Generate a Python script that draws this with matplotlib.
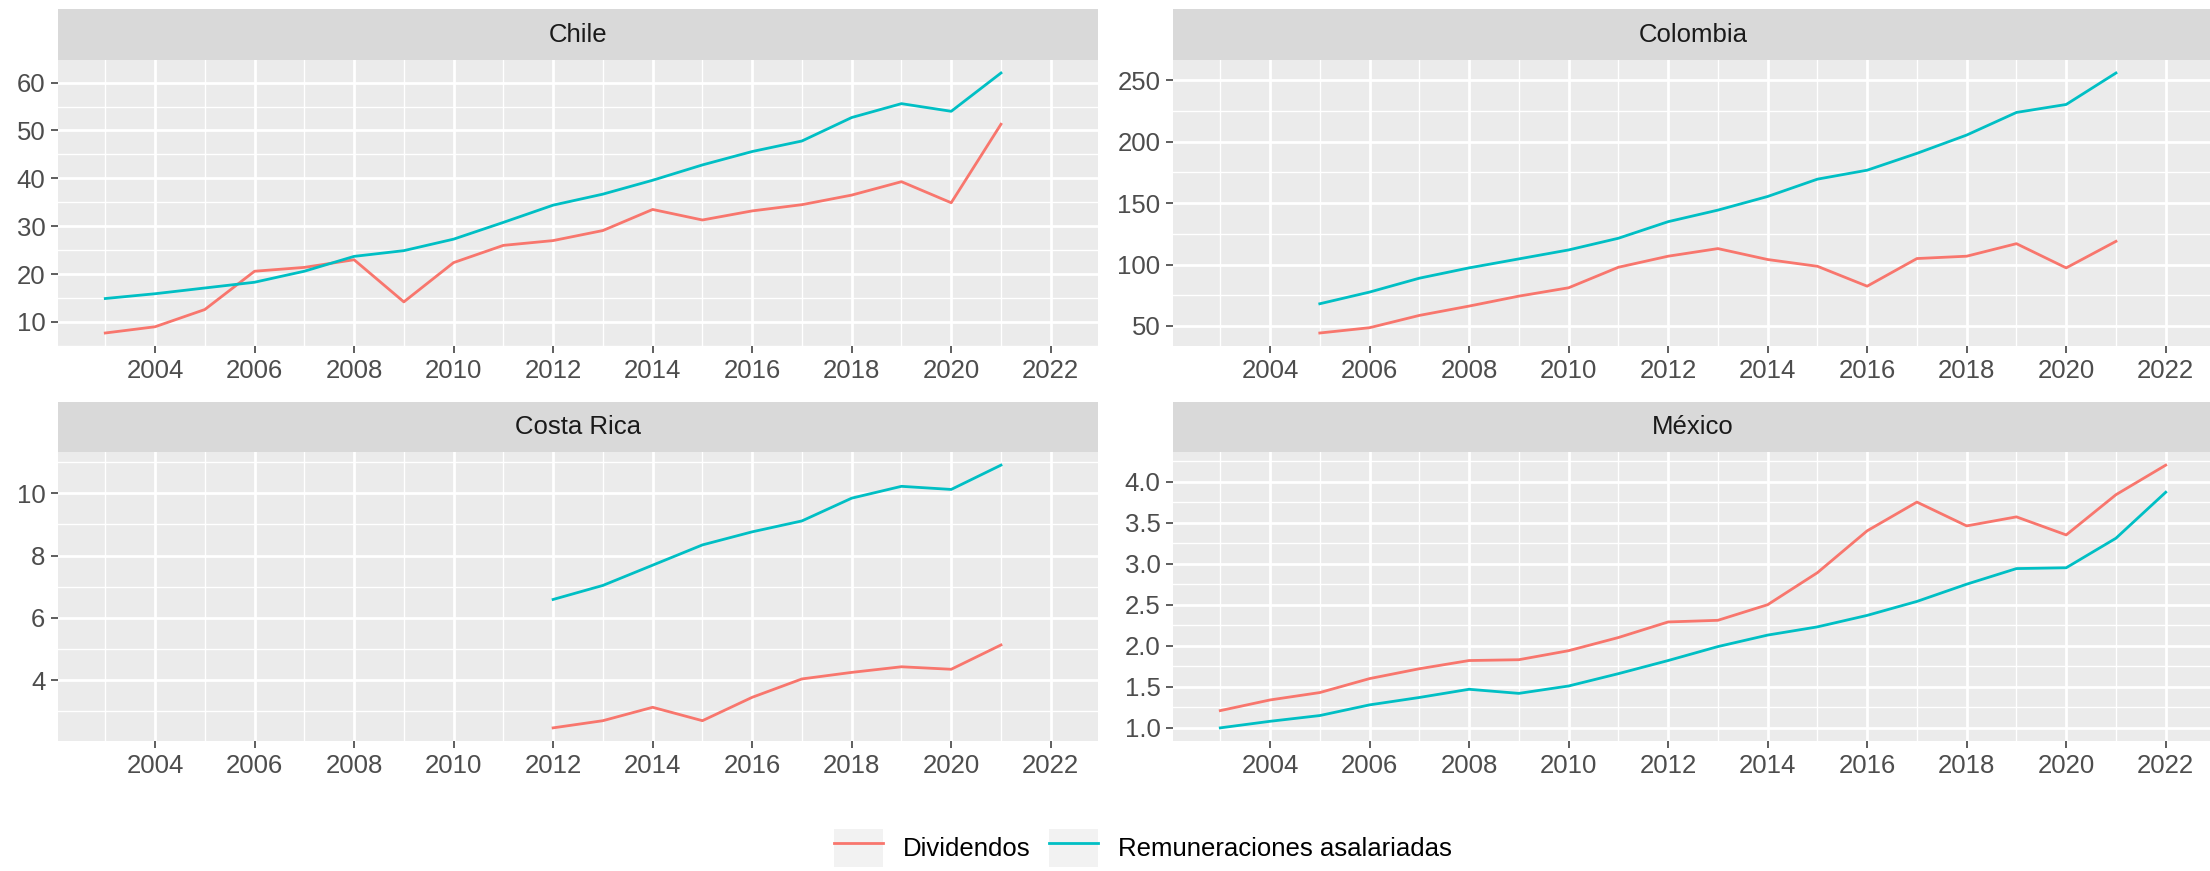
import matplotlib
matplotlib.use("Agg")
import matplotlib.pyplot as plt
import numpy as np
from matplotlib.ticker import MultipleLocator, FormatStrFormatter
from matplotlib.lines import Line2D
from matplotlib.patches import Patch
from matplotlib.legend_handler import HandlerTuple

plt.rcParams['font.family'] = ['Liberation Sans', 'DejaVu Sans']

# data
chile_years = list(range(2003, 2022))
chile_div = [7.7, 9.0, 12.6, 20.6, 21.4, 23.0, 14.2, 22.4, 26.0, 27.0,
             29.1, 33.5, 31.3, 33.2, 34.5, 36.5, 39.3, 34.9, 51.3]
chile_rem = [14.9, 15.9, 17.1, 18.3, 20.6, 23.7, 24.9, 27.3, 30.8, 34.4,
             36.7, 39.6, 42.8, 45.6, 47.8, 52.7, 55.6, 54.0, 62.0]

col_years = list(range(2005, 2022))
col_div = [44.3, 48.6, 58.6, 66.2, 74.3, 81.1, 97.8, 106.8, 113.0, 104.1,
           98.6, 82.4, 104.9, 106.8, 117.0, 97.3, 118.9]
col_rem = [68.1, 77.6, 88.9, 97.3, 104.6, 111.9, 121.4, 134.9, 144.3, 155.4,
           169.5, 176.8, 190.5, 205.4, 223.8, 230.3, 255.9]

cr_years = list(range(2012, 2022))
cr_div = [2.47, 2.70, 3.13, 2.70, 3.45, 4.04, 4.25, 4.43, 4.35, 5.13]
cr_rem = [6.59, 7.04, 7.69, 8.34, 8.76, 9.11, 9.84, 10.22, 10.12, 10.90]

mex_years = list(range(2003, 2023))
mex_div = [1.21, 1.34, 1.43, 1.60, 1.72, 1.82, 1.83, 1.94, 2.10, 2.29,
           2.31, 2.50, 2.89, 3.40, 3.75, 3.46, 3.57, 3.35, 3.84, 4.20]
mex_rem = [1.00, 1.08, 1.15, 1.28, 1.37, 1.47, 1.42, 1.51, 1.66, 1.82,
           1.99, 2.13, 2.23, 2.37, 2.54, 2.75, 2.94, 2.95, 3.31, 3.87]

series_names = ['Dividendos', 'Remuneraciones asalariadas']
colors = ['#F8766D', '#00BFC4']

panels = [
    ('Chile', chile_years, chile_div, chile_rem, 10, '%d'),
    ('Colombia', col_years, col_div, col_rem, 50, '%d'),
    ('Costa Rica', cr_years, cr_div, cr_rem, 2, '%d'),
    ('México', mex_years, mex_div, mex_rem, 0.5, '%.1f'),
]

W, H = 2210, 871
fig = plt.figure(figsize=(W / 100, H / 100), dpi=100)

# pixel boxes: (left, right), (strip_top, panel_top, panel_bottom)
cols = [(58, 1098), (1173, 2213)]
rows = [(9, 60, 346), (402, 452, 741)]

all_years = chile_years + col_years + cr_years + mex_years
x0, x1 = min(all_years), max(all_years)
xpad = (x1 - x0) * 0.05

fs = 18.5
for i, (name, yrs, div, rem, step, fmt) in enumerate(panels):
    l, r = cols[i % 2]
    st, pt, pb = rows[i // 2]
    ax = fig.add_axes([l / W, 1 - pb / H, (r - l) / W, (pb - pt) / H])
    sax = fig.add_axes([l / W, 1 - pt / H, (r - l) / W, (pt - st) / H])
    sax.set_facecolor('#D9D9D9')
    sax.set_xticks([])
    sax.set_yticks([])
    for s in sax.spines.values():
        s.set_visible(False)
    sax.text(0.5, 0.5, name, ha='center', va='center', fontsize=fs,
             color='#1A1A1A', transform=sax.transAxes)

    ax.set_facecolor('#EBEBEB')
    ax.plot(yrs, div, color=colors[0], lw=2.0, zorder=3)
    ax.plot(yrs, rem, color=colors[1], lw=2.0, zorder=3)
    ax.set_xlim(x0 - xpad, x1 + xpad)
    lo = min(min(div), min(rem))
    hi = max(max(div), max(rem))
    ypad = (hi - lo) * 0.05
    ax.set_ylim(lo - ypad, hi + ypad)

    ax.xaxis.set_major_locator(MultipleLocator(2))
    ax.xaxis.set_minor_locator(MultipleLocator(1))
    ax.yaxis.set_major_locator(MultipleLocator(step))
    ax.yaxis.set_minor_locator(MultipleLocator(step / 2))
    ax.yaxis.set_major_formatter(FormatStrFormatter(fmt))
    ax.grid(which='major', color='white', lw=2.0)
    ax.grid(which='minor', color='white', lw=1.0)
    ax.set_axisbelow(True)
    for s in ax.spines.values():
        s.set_visible(False)
    ax.tick_params(which='major', length=5, width=1.1, color='#333333',
                   labelsize=fs, labelcolor='#4D4D4D', pad=4)
    ax.tick_params(which='minor', length=0)

handles = [(Patch(facecolor='#F2F2F2', edgecolor='none'),
            Line2D([], [], color=c, lw=2.0)) for c in colors]
fig.legend(handles, series_names, loc='center', bbox_to_anchor=(1143 / W, 1 - 848 / H),
           ncol=2, frameon=False, fontsize=fs, handlelength=1.9, handleheight=1.9,
           handletextpad=0.8, columnspacing=0.7,
           handler_map={tuple: HandlerTuple(ndivide=1, pad=0)})

fig.savefig('out.png', dpi=100, facecolor='white')
